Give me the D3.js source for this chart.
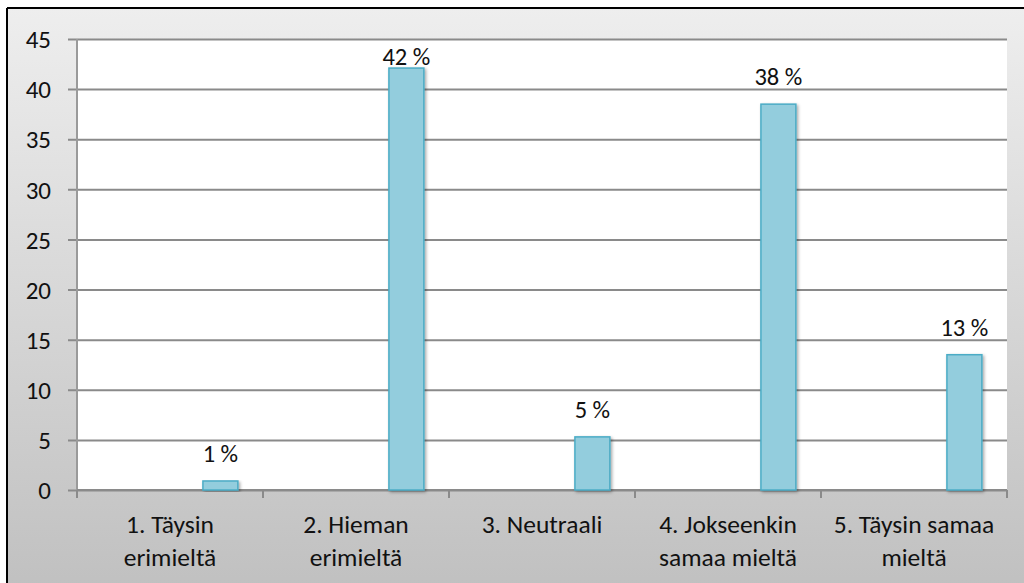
<!DOCTYPE html>
<html>
<head>
<meta charset="utf-8">
<script src="https://cdn.jsdelivr.net/npm/d3@7"></script>
<style>
  body { margin: 0; background: #fff; }
  text { font-family: Carlito, Lato, "Open Sans", sans-serif; fill: #111; }
</style>
</head>
<body>
<script>
// chart data
var categories = ['1. Täysin erimieltä', '2. Hieman erimieltä', '3. Neutraali', '4. Jokseenkin samaa mieltä', '5. Täysin samaa mieltä'];
var categoryLines = [['1. Täysin', 'erimieltä'], ['2. Hieman', 'erimieltä'], ['3. Neutraali'], ['4. Jokseenkin', 'samaa mieltä'], ['5. Täysin samaa', 'mieltä']];
var values = [0.9, 42.1, 5.3, 38.5, 13.5];
var valueLabels = ['1 %', '42 %', '5 %', '38 %', '13 %'];
var yTicks = [0, 5, 10, 15, 20, 25, 30, 35, 40, 45];

var W = 1024, H = 583;
var plot = {l: 77, r: 1007, t: 39, b: 490};

var svg = d3.select('body').append('svg').attr('width', W).attr('height', H);
var defs = svg.append('defs');

var grad = defs.append('linearGradient').attr('id', 'bg').attr('x1', 0).attr('y1', 0).attr('x2', 0).attr('y2', 1);
grad.append('stop').attr('offset', '0%').attr('stop-color', '#eeeeee');
grad.append('stop').attr('offset', '100%').attr('stop-color', '#c0c0c0');

var shadow = defs.append('filter').attr('id', 'shadow').attr('x', '-30%').attr('y', '-10%').attr('width', '160%').attr('height', '130%');
shadow.append('feDropShadow').attr('dx', 1.5).attr('dy', 1.5).attr('stdDeviation', 1.5).attr('flood-color', '#000').attr('flood-opacity', 0.35);

// chart background + frame
svg.append('rect').attr('x', 7).attr('y', 8).attr('width', W).attr('height', H).attr('fill', 'url(#bg)');
svg.append('line').attr('x1', 7).attr('y1', 8).attr('x2', W).attr('y2', 8).attr('stroke', '#000').attr('stroke-width', 2);
svg.append('line').attr('x1', 7).attr('y1', 8).attr('x2', 7).attr('y2', H).attr('stroke', '#000').attr('stroke-width', 2);

// plot area
svg.append('rect').attr('x', plot.l).attr('y', plot.t).attr('width', plot.r - plot.l).attr('height', plot.b - plot.t).attr('fill', '#fff');

var x = d3.scaleBand().domain(categories).range([plot.l, plot.r]).padding(0);
var y = d3.scaleLinear().domain([0, 45]).range([plot.b, plot.t]);

// y axis with gridlines
var yAxis = svg.append('g').attr('transform', 'translate(' + plot.l + ',0)')
  .call(d3.axisLeft(y).tickValues(yTicks).tickSize(-(plot.r - plot.l)).tickPadding(0).tickFormat(d3.format('d')));
yAxis.select('.domain').remove();
yAxis.selectAll('.tick line').attr('x1', -9).attr('stroke', '#8a8a8a').attr('stroke-width', 2);
yAxis.selectAll('.tick text').attr('x', -26).attr('font-size', 25).attr('dy', '0.35em');
svg.append('line').attr('x1', plot.l).attr('x2', plot.l).attr('y1', plot.t).attr('y2', plot.b + 8)
  .attr('stroke', '#9a9a9a').attr('stroke-width', 2);

// x axis
var xAxis = svg.append('g').attr('transform', 'translate(0,' + plot.b + ')');
xAxis.append('line').attr('x1', plot.l).attr('x2', plot.r).attr('stroke', '#8a8a8a').attr('stroke-width', 2);
xAxis.selectAll('.xtick').data(categories.concat([null])).enter().append('line')
  .attr('x1', function(d){ return d === null ? plot.r : x(d); })
  .attr('x2', function(d){ return d === null ? plot.r : x(d); })
  .attr('y1', 0).attr('y2', 8).attr('stroke', '#8a8a8a').attr('stroke-width', 2);

var catLabels = xAxis.selectAll('.cat').data(categories).enter().append('text')
  .attr('text-anchor', 'middle').attr('font-size', 25.5)
  .attr('transform', function(d){ return 'translate(' + (x(d) + x.bandwidth() / 2) + ',0)'; });
catLabels.selectAll('tspan').data(function(d, i){ return categoryLines[i]; }).enter().append('tspan')
  .attr('x', 0).attr('y', function(d, i){ return 43 + i * 33; }).text(function(d){ return d; });

// bars
var barOff = x.bandwidth() * 0.677, barW = x.bandwidth() * 0.188;
svg.append('g').selectAll('rect').data(values).enter().append('rect')
  .attr('x', function(d, i){ return x(categories[i]) + barOff; })
  .attr('y', function(d){ return y(d); })
  .attr('width', barW)
  .attr('height', function(d){ return y(0) - y(d); })
  .attr('fill', '#93cddd').attr('stroke', '#4bacc6').attr('stroke-width', 1.5)
  .attr('filter', 'url(#shadow)');

// value labels
svg.append('g').selectAll('text').data(values).enter().append('text')
  .attr('text-anchor', 'middle').attr('font-size', 24.5)
  .attr('x', function(d, i){ return x(categories[i]) + barOff + barW / 2; })
  .attr('y', function(d){ return Math.max(y(d) - 19, plot.t + 26); })
  .text(function(d, i){ return valueLabels[i]; });
</script>
</body>
</html>
